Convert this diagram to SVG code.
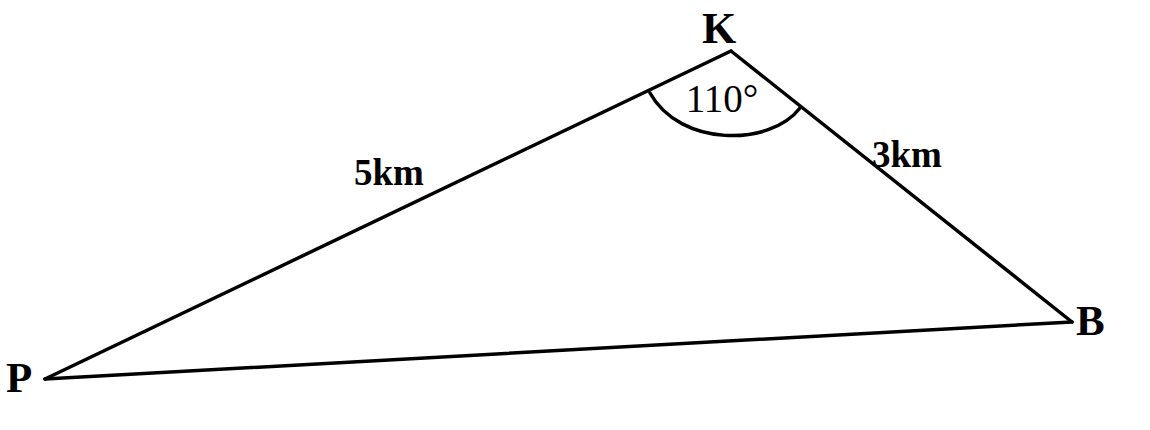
<svg xmlns="http://www.w3.org/2000/svg" width="1150" height="430" viewBox="0 0 1150 430">
<style>
.edge{stroke:#000;stroke-width:3.5;fill:none;stroke-linecap:round;stroke-linejoin:round}
.lbl{font-family:"Liberation Serif","Times New Roman",serif;font-weight:bold;fill:#000}
.ang{font-family:"Liberation Serif","Times New Roman",serif;fill:#000}
</style>
<rect width="1150" height="430" fill="#fff"/>
<g id="connectors">
<line class="edge" x1="45" y1="379" x2="731" y2="51"/>
<line class="edge" x1="731" y1="51" x2="1072" y2="322"/>
<line class="edge" x1="45" y1="379" x2="1072" y2="322"/>
<path class="edge" d="M650,93 C680,147 770,147 800,108"/>
</g>
<g id="node-K"><text class="lbl" x="719" y="43" font-size="44" text-anchor="middle">K</text></g>
<g id="node-P"><text class="lbl" x="6" y="392" font-size="43">P</text></g>
<g id="node-B"><text class="lbl" x="1076" y="335" font-size="43">B</text></g>
<g id="angle-K"><text class="ang" x="722" y="112" font-size="39" text-anchor="middle">110°</text></g>
<g id="label-PK"><text class="lbl" x="354" y="185" font-size="37">5km</text></g>
<g id="label-KB"><text class="lbl" x="872" y="167" font-size="37">3km</text></g>
</svg>
